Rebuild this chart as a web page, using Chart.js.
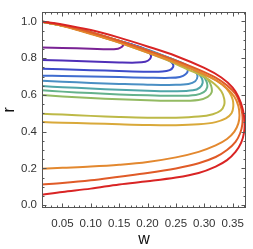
<!DOCTYPE html>
<html>
<head>
<meta charset="utf-8">
<script src="https://cdn.jsdelivr.net/npm/chart.js@4"></script>
<style>
  html, body { margin: 0; padding: 0; background: #fff; }
  canvas { display: block; }
</style>
</head>
<body>
<canvas id="grafica" width="253" height="249"></canvas>
<script>
// each curve: [w, r] points, lower branch -> tip -> upper branch
const purple = [[0.014,0.858],[0.05,0.856],[0.10,0.852],[0.13,0.849],[0.148,0.852],[0.155,0.862],[0.157,0.875],[0.153,0.888],[0.14,0.898],[0.12,0.915],[0.10,0.935],[0.07,0.962],[0.04,0.985],[0.014,0.997]];
const indigo = [[0.014,0.790],[0.05,0.787],[0.10,0.782],[0.15,0.777],[0.18,0.776],[0.196,0.781],[0.204,0.795],[0.206,0.815],[0.201,0.835],[0.19,0.857],[0.17,0.877],[0.14,0.903],[0.10,0.938],[0.05,0.978],[0.014,0.998]];
const blue = [[0.014,0.743],[0.05,0.740],[0.10,0.735],[0.15,0.730],[0.20,0.726],[0.226,0.727],[0.239,0.735],[0.245,0.752],[0.244,0.772],[0.236,0.790],[0.22,0.812],[0.19,0.846],[0.15,0.89],[0.10,0.936],[0.05,0.978],[0.014,0.998]];
const blue2 = [[0.014,0.705],[0.05,0.703],[0.10,0.700],[0.15,0.697],[0.20,0.694],[0.24,0.693],[0.257,0.698],[0.267,0.712],[0.271,0.735],[0.267,0.758],[0.256,0.778],[0.24,0.800],[0.21,0.836],[0.17,0.876],[0.13,0.913],[0.09,0.948],[0.05,0.978],[0.014,0.998]];
const lightBlue = [[0.014,0.677],[0.05,0.672],[0.10,0.665],[0.15,0.660],[0.20,0.656],[0.25,0.655],[0.272,0.660],[0.284,0.675],[0.288,0.700],[0.285,0.725],[0.276,0.750],[0.26,0.775],[0.23,0.811],[0.19,0.852],[0.15,0.893],[0.10,0.940],[0.05,0.979],[0.014,0.998]];
const teal = [[0.014,0.648],[0.05,0.642],[0.10,0.635],[0.15,0.628],[0.20,0.623],[0.25,0.620],[0.28,0.625],[0.292,0.640],[0.297,0.665],[0.295,0.695],[0.287,0.725],[0.272,0.755],[0.245,0.790],[0.21,0.831],[0.17,0.873],[0.12,0.922],[0.07,0.965],[0.014,0.998]];
const green = [[0.014,0.625],[0.05,0.618],[0.10,0.610],[0.15,0.603],[0.20,0.598],[0.25,0.595],[0.285,0.600],[0.299,0.615],[0.305,0.640],[0.304,0.672],[0.297,0.705],[0.283,0.738],[0.26,0.772],[0.22,0.820],[0.18,0.862],[0.13,0.912],[0.07,0.965],[0.014,0.998]];
const yellowGreen = [[0.014,0.600],[0.05,0.592],[0.10,0.583],[0.15,0.576],[0.20,0.571],[0.25,0.568],[0.29,0.573],[0.306,0.590],[0.313,0.615],[0.312,0.650],[0.306,0.685],[0.293,0.720],[0.27,0.758],[0.23,0.808],[0.19,0.852],[0.14,0.903],[0.08,0.958],[0.014,0.998]];
const olive = [[0.014,0.497],[0.05,0.493],[0.10,0.486],[0.15,0.480],[0.20,0.476],[0.25,0.476],[0.29,0.482],[0.315,0.495],[0.329,0.515],[0.335,0.545],[0.335,0.580],[0.330,0.620],[0.318,0.660],[0.30,0.698],[0.27,0.740],[0.23,0.795],[0.18,0.853],[0.12,0.915],[0.06,0.970],[0.014,0.999]];
const yellowOrange = [[0.014,0.452],[0.05,0.449],[0.10,0.445],[0.15,0.440],[0.20,0.436],[0.25,0.435],[0.29,0.440],[0.32,0.452],[0.338,0.472],[0.348,0.500],[0.351,0.535],[0.350,0.575],[0.344,0.615],[0.332,0.655],[0.312,0.695],[0.28,0.742],[0.24,0.790],[0.19,0.845],[0.13,0.907],[0.07,0.962],[0.014,0.999]];
const orange = [[0.014,0.198],[0.05,0.203],[0.10,0.210],[0.15,0.220],[0.20,0.235],[0.25,0.260],[0.29,0.290],[0.32,0.325],[0.34,0.360],[0.353,0.400],[0.360,0.445],[0.362,0.490],[0.360,0.540],[0.353,0.590],[0.34,0.635],[0.32,0.680],[0.29,0.725],[0.25,0.775],[0.20,0.830],[0.15,0.885],[0.10,0.932],[0.05,0.975],[0.014,0.999]];
const redOrange = [[0.014,0.112],[0.05,0.120],[0.10,0.135],[0.15,0.155],[0.20,0.175],[0.25,0.200],[0.29,0.228],[0.32,0.262],[0.34,0.300],[0.355,0.345],[0.363,0.390],[0.367,0.440],[0.367,0.495],[0.363,0.550],[0.355,0.605],[0.34,0.652],[0.32,0.694],[0.29,0.738],[0.25,0.787],[0.20,0.842],[0.15,0.895],[0.10,0.941],[0.05,0.980],[0.014,1.0]];
const red = [[0.014,0.057],[0.05,0.072],[0.10,0.090],[0.15,0.113],[0.20,0.130],[0.25,0.150],[0.29,0.175],[0.32,0.210],[0.34,0.245],[0.355,0.290],[0.365,0.340],[0.370,0.395],[0.371,0.450],[0.368,0.520],[0.360,0.590],[0.35,0.640],[0.33,0.695],[0.30,0.747],[0.25,0.812],[0.20,0.864],[0.15,0.912],[0.10,0.953],[0.05,0.984],[0.014,1.0]];

const curvas = [purple, indigo, blue, blue2, lightBlue, teal, green, yellowGreen, olive, yellowOrange, orange, redOrange, red];
const colores = ['#7a2395', '#4f2fb8', '#3d4cc9', '#3f6ccf', '#4a8fc4', '#50a6a8', '#64b28c', '#93ba62', '#bdb947', '#d9a93a', '#e3882f', '#e05b28', '#d92424'];

const xTicks = [0.05, 0.10, 0.15, 0.20, 0.25, 0.30, 0.35];
const yTicks = [0.0, 0.2, 0.4, 0.6, 0.8, 1.0];

const xMin = 0.014, xMax = 0.374;
const yMin = -0.0155, yMax = 1.052;

// minor tick positions
const xMinor = [];
for (let i = 2; i <= 37; i++) xMinor.push(i / 100);
const yMinor = [];
for (let i = 0; i <= 21; i++) yMinor.push(i / 20);

const marco = {
    id: 'marco',
    afterDatasetsDraw(chart) {
        const ctx = chart.ctx;
        const a = chart.chartArea;
        const sx = chart.scales.x, sy = chart.scales.y;
        ctx.save();
        ctx.strokeStyle = '#555';
        ctx.lineWidth = 1;
        const l = Math.round(a.left) + 0.5, r = Math.round(a.right) - 0.5;
        const t = Math.round(a.top) + 0.5, b = Math.round(a.bottom) - 0.5;
        ctx.strokeRect(l, t, r - l, b - t);
        ctx.beginPath();
        const tick = (v, len, eje) => {
            if (eje === 'x') {
                const p = Math.round(sx.getPixelForValue(v)) + 0.5;
                if (p < l || p > r) return;
                ctx.moveTo(p, b); ctx.lineTo(p, b - len);
                ctx.moveTo(p, t); ctx.lineTo(p, t + len);
            } else {
                const p = Math.round(sy.getPixelForValue(v)) + 0.5;
                if (p < t || p > b) return;
                ctx.moveTo(l, p); ctx.lineTo(l + len, p);
                ctx.moveTo(r, p); ctx.lineTo(r - len, p);
            }
        };
        xMinor.forEach(v => tick(v, 2, 'x'));
        yMinor.forEach(v => tick(v, 2, 'y'));
        xTicks.forEach(v => tick(v, 4, 'x'));
        yTicks.forEach(v => tick(v, 4, 'y'));
        ctx.stroke();
        ctx.restore();
    }
};

const datasets = curvas.map((c, i) => ({
    data: c.map(p => ({ x: p[0], y: p[1] })),
    borderColor: colores[i],
    borderWidth: 2,
    pointRadius: 0,
    showLine: true,
    fill: false,
    tension: 0.35
})).reverse();

const ctx = document.getElementById('grafica').getContext('2d');
new Chart(ctx, {
    type: 'scatter',
    data: { datasets: datasets },
    options: {
        responsive: false,
        animation: false,
        devicePixelRatio: 1,
        layout: { padding: { top: 2, right: 2, left: 0, bottom: 0 } },
        plugins: { legend: { display: false }, tooltip: { enabled: false } },
        scales: {
            x: {
                type: 'linear',
                min: xMin,
                max: xMax,
                afterBuildTicks: s => { s.ticks = xTicks.map(v => ({ value: v })); },
                afterFit: s => { s.height = 41; },
                grid: { display: false, drawTicks: false },
                border: { display: false },
                ticks: {
                    padding: 9,
                    color: '#333',
                    font: { family: 'Liberation Sans', size: 11.5 },
                    callback: v => v.toFixed(2),
                    maxRotation: 0,
                    autoSkip: false
                },
                title: {
                    display: true,
                    text: 'w',
                    color: '#111',
                    font: { family: 'Liberation Sans', size: 16 },
                    padding: { top: 0, bottom: 0 }
                }
            },
            y: {
                type: 'linear',
                min: yMin,
                max: yMax,
                afterBuildTicks: s => { s.ticks = yTicks.map(v => ({ value: v })); },
                afterFit: s => { s.width = 42; },
                grid: { display: false, drawTicks: false },
                border: { display: false },
                ticks: {
                    padding: 5,
                    color: '#333',
                    font: { family: 'Liberation Sans', size: 11.5 },
                    callback: v => v.toFixed(1),
                    autoSkip: false
                },
                title: {
                    display: true,
                    text: 'r',
                    color: '#111',
                    font: { family: 'Liberation Sans', size: 16 },
                    padding: { top: 0, bottom: 0 }
                }
            }
        }
    },
    plugins: [marco]
});
</script>
</body>
</html>
